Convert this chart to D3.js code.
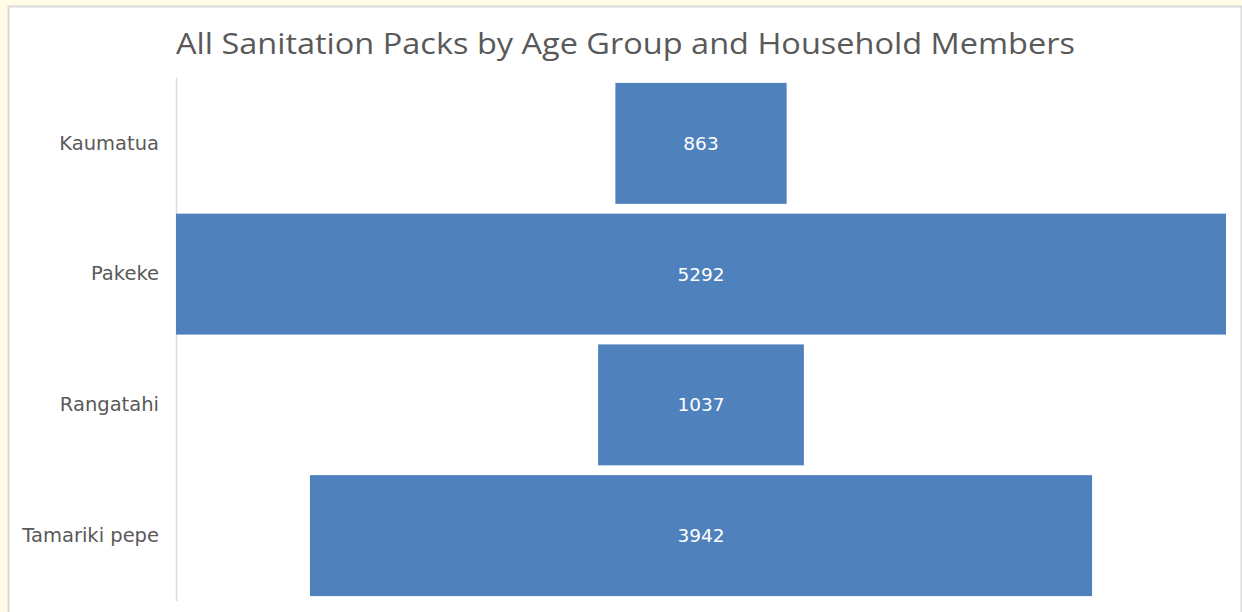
<!DOCTYPE html>
<html>
<head>
<meta charset="utf-8">
<script src="https://cdn.jsdelivr.net/npm/d3@7"></script>
<style>
  html, body { margin: 0; padding: 0; background: #fffbe6; }
  #chart { position: absolute; left: 0; top: 0; }
</style>
</head>
<body>
<div id="chart"></div>
<script>
// chart data
const categories = ["Kaumatua", "Pakeke", "Rangatahi", "Tamariki pepe"];
const packs = [863, 5292, 1037, 3942];
const chartTitle = "All Sanitation Packs by Age Group and Household Members";

const W = 1242, H = 612;
const plot = {left: 176, right: 1226, top: 78, bottom: 601};
const barColor = "#4f81bd";

let svg = d3.select("#chart")
  .append("svg")
    .attr("width", W)
    .attr("height", H);

// cream outer frame + white chart area
svg.append("rect")
  .attr("x", 0).attr("y", 0).attr("width", W).attr("height", H)
  .attr("fill", "#fffbe6");
svg.append("rect")
  .attr("x", 8.5).attr("y", 6.5).attr("width", W - 9).attr("height", H)
  .attr("fill", "#ffffff")
  .attr("stroke", "#d9d9d9")
  .attr("stroke-width", 2);

// title
svg.append("text")
  .text(chartTitle)
  .attr("x", 176)
  .attr("y", 54)
  .attr("font-family", "'Open Sans', sans-serif")
  .attr("font-size", "29px")
  .attr("fill", "#595959")
  .attr("textLength", 899)
  .attr("lengthAdjust", "spacingAndGlyphs");

let maxVal = d3.max(packs);
let xScale = d3.scaleLinear()
  .domain([-maxVal / 2, maxVal / 2])
  .range([plot.left, plot.right]);
let yScale = d3.scaleBand()
  .domain(categories)
  .range([plot.top, plot.bottom])
  .paddingInner(0.075)
  .paddingOuter(0.0375);

// category axis
let yAxis = d3.axisLeft(yScale).tickSize(0).tickPadding(17);
let axisG = svg.append("g")
  .attr("transform", "translate(" + plot.left + ",0)")
  .call(yAxis);
axisG.select(".domain")
  .attr("d", "M0.5," + plot.top + "V" + plot.bottom)
  .attr("stroke", "#d9d9d9")
  .attr("stroke-width", 1.5);
axisG.selectAll("text")
  .attr("font-family", "'DejaVu Sans', sans-serif")
  .attr("font-size", "19.5px")
  .attr("fill", "#595959");

// funnel bars, centered
svg.selectAll(".bar")
  .data(packs)
  .enter()
  .append("rect")
    .attr("class", "bar")
    .attr("x", function(d) { return xScale(-d / 2); })
    .attr("y", function(d, i) { return yScale(categories[i]); })
    .attr("width", function(d) { return xScale(d / 2) - xScale(-d / 2); })
    .attr("height", yScale.bandwidth())
    .attr("fill", barColor);

svg.selectAll(".val")
  .data(packs)
  .enter()
  .append("text")
    .attr("class", "val")
    .text(function(d) { return d; })
    .attr("x", xScale(0))
    .attr("y", function(d, i) { return yScale(categories[i]) + yScale.bandwidth() / 2; })
    .attr("dy", "0.35em")
    .attr("text-anchor", "middle")
    .attr("font-family", "'DejaVu Sans', sans-serif")
    .attr("font-size", "18.5px")
    .attr("fill", "#ffffff");
</script>
</body>
</html>
